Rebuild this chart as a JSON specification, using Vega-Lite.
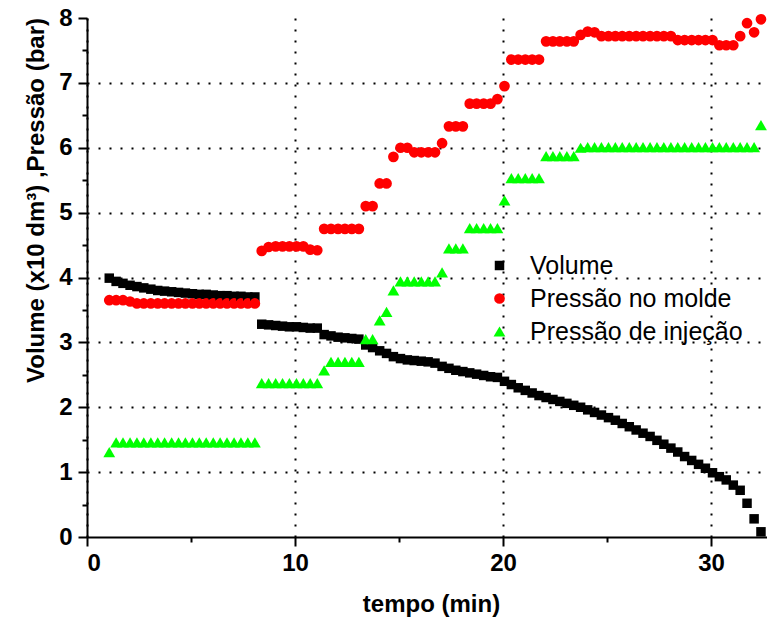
{
  "$schema": "https://vega.github.io/schema/vega-lite/v6.json",
  "width": 680,
  "height": 519,
  "autosize": "none",
  "padding": {"left": 87, "top": 18, "right": 0, "bottom": 88},
  "background": "white",
  "config": {
    "view": {"stroke": null},
    "font": "Liberation Sans",
    "axis": {
      "domainColor": "black", "domainWidth": 2, "tickColor": "black", "tickWidth": 2,
      "labelColor": "black", "labelFont": "Liberation Sans", "labelFontWeight": "bold", "labelFontSize": 24,
      "titleColor": "black", "titleFont": "Liberation Sans", "titleFontWeight": "bold", "titleFontSize": 24,
      "gridColor": "black", "gridDash": [2, 9], "gridWidth": 2, "gridOpacity": 1
    }
  },
  "data": {
    "values": [
      {"t": 1.07, "v": 3.99, "pm": 3.65, "pi": 1.31},
      {"t": 1.40, "v": 3.94, "pm": 3.65, "pi": 1.46},
      {"t": 1.73, "v": 3.91, "pm": 3.65, "pi": 1.46},
      {"t": 2.07, "v": 3.88, "pm": 3.63, "pi": 1.46},
      {"t": 2.40, "v": 3.86, "pm": 3.60, "pi": 1.46},
      {"t": 2.73, "v": 3.84, "pm": 3.60, "pi": 1.46},
      {"t": 3.07, "v": 3.82, "pm": 3.60, "pi": 1.46},
      {"t": 3.40, "v": 3.80, "pm": 3.60, "pi": 1.46},
      {"t": 3.73, "v": 3.79, "pm": 3.60, "pi": 1.46},
      {"t": 4.07, "v": 3.78, "pm": 3.60, "pi": 1.46},
      {"t": 4.40, "v": 3.77, "pm": 3.60, "pi": 1.46},
      {"t": 4.73, "v": 3.76, "pm": 3.60, "pi": 1.46},
      {"t": 5.07, "v": 3.75, "pm": 3.60, "pi": 1.46},
      {"t": 5.40, "v": 3.74, "pm": 3.60, "pi": 1.46},
      {"t": 5.73, "v": 3.74, "pm": 3.60, "pi": 1.46},
      {"t": 6.07, "v": 3.73, "pm": 3.60, "pi": 1.46},
      {"t": 6.40, "v": 3.72, "pm": 3.60, "pi": 1.46},
      {"t": 6.73, "v": 3.72, "pm": 3.60, "pi": 1.46},
      {"t": 7.07, "v": 3.71, "pm": 3.60, "pi": 1.46},
      {"t": 7.40, "v": 3.71, "pm": 3.60, "pi": 1.46},
      {"t": 7.73, "v": 3.70, "pm": 3.60, "pi": 1.46},
      {"t": 8.07, "v": 3.70, "pm": 3.60, "pi": 1.46},
      {"t": 8.40, "v": 3.28, "pm": 4.41, "pi": 2.37},
      {"t": 8.73, "v": 3.27, "pm": 4.47, "pi": 2.37},
      {"t": 9.07, "v": 3.26, "pm": 4.48, "pi": 2.37},
      {"t": 9.40, "v": 3.25, "pm": 4.48, "pi": 2.37},
      {"t": 9.73, "v": 3.24, "pm": 4.48, "pi": 2.37},
      {"t": 10.07, "v": 3.24, "pm": 4.48, "pi": 2.37},
      {"t": 10.40, "v": 3.23, "pm": 4.48, "pi": 2.37},
      {"t": 10.73, "v": 3.22, "pm": 4.43, "pi": 2.37},
      {"t": 11.07, "v": 3.22, "pm": 4.42, "pi": 2.37},
      {"t": 11.40, "v": 3.12, "pm": 4.75, "pi": 2.57},
      {"t": 11.73, "v": 3.10, "pm": 4.75, "pi": 2.70},
      {"t": 12.07, "v": 3.08, "pm": 4.75, "pi": 2.70},
      {"t": 12.40, "v": 3.07, "pm": 4.75, "pi": 2.70},
      {"t": 12.73, "v": 3.06, "pm": 4.75, "pi": 2.70},
      {"t": 13.07, "v": 3.05, "pm": 4.75, "pi": 2.70},
      {"t": 13.40, "v": 2.96, "pm": 5.10, "pi": 3.05},
      {"t": 13.73, "v": 2.92, "pm": 5.10, "pi": 3.05},
      {"t": 14.07, "v": 2.87, "pm": 5.45, "pi": 3.34},
      {"t": 14.40, "v": 2.83, "pm": 5.45, "pi": 3.47},
      {"t": 14.73, "v": 2.78, "pm": 5.86, "pi": 3.80},
      {"t": 15.07, "v": 2.75, "pm": 6.00, "pi": 3.94},
      {"t": 15.40, "v": 2.73, "pm": 6.00, "pi": 3.94},
      {"t": 15.73, "v": 2.72, "pm": 5.93, "pi": 3.94},
      {"t": 16.07, "v": 2.71, "pm": 5.93, "pi": 3.94},
      {"t": 16.40, "v": 2.70, "pm": 5.93, "pi": 3.94},
      {"t": 16.73, "v": 2.68, "pm": 5.93, "pi": 3.94},
      {"t": 17.07, "v": 2.63, "pm": 6.07, "pi": 4.08},
      {"t": 17.40, "v": 2.60, "pm": 6.33, "pi": 4.45},
      {"t": 17.73, "v": 2.57, "pm": 6.33, "pi": 4.45},
      {"t": 18.07, "v": 2.55, "pm": 6.33, "pi": 4.45},
      {"t": 18.40, "v": 2.53, "pm": 6.68, "pi": 4.76},
      {"t": 18.73, "v": 2.51, "pm": 6.68, "pi": 4.76},
      {"t": 19.07, "v": 2.49, "pm": 6.68, "pi": 4.76},
      {"t": 19.40, "v": 2.47, "pm": 6.68, "pi": 4.76},
      {"t": 19.73, "v": 2.46, "pm": 6.75, "pi": 4.76},
      {"t": 20.07, "v": 2.40, "pm": 6.95, "pi": 5.19},
      {"t": 20.40, "v": 2.35, "pm": 7.36, "pi": 5.53},
      {"t": 20.73, "v": 2.30, "pm": 7.36, "pi": 5.53},
      {"t": 21.07, "v": 2.26, "pm": 7.36, "pi": 5.53},
      {"t": 21.40, "v": 2.22, "pm": 7.36, "pi": 5.53},
      {"t": 21.73, "v": 2.18, "pm": 7.36, "pi": 5.53},
      {"t": 22.07, "v": 2.15, "pm": 7.64, "pi": 5.87},
      {"t": 22.40, "v": 2.12, "pm": 7.64, "pi": 5.87},
      {"t": 22.73, "v": 2.09, "pm": 7.64, "pi": 5.87},
      {"t": 23.07, "v": 2.06, "pm": 7.64, "pi": 5.87},
      {"t": 23.40, "v": 2.03, "pm": 7.64, "pi": 5.87},
      {"t": 23.73, "v": 2.00, "pm": 7.74, "pi": 6.00},
      {"t": 24.07, "v": 1.96, "pm": 7.79, "pi": 6.01},
      {"t": 24.40, "v": 1.92, "pm": 7.78, "pi": 6.01},
      {"t": 24.73, "v": 1.88, "pm": 7.72, "pi": 6.01},
      {"t": 25.07, "v": 1.84, "pm": 7.72, "pi": 6.01},
      {"t": 25.40, "v": 1.80, "pm": 7.72, "pi": 6.01},
      {"t": 25.73, "v": 1.75, "pm": 7.72, "pi": 6.01},
      {"t": 26.07, "v": 1.70, "pm": 7.72, "pi": 6.01},
      {"t": 26.40, "v": 1.65, "pm": 7.72, "pi": 6.01},
      {"t": 26.73, "v": 1.60, "pm": 7.72, "pi": 6.01},
      {"t": 27.07, "v": 1.55, "pm": 7.72, "pi": 6.01},
      {"t": 27.40, "v": 1.49, "pm": 7.72, "pi": 6.01},
      {"t": 27.73, "v": 1.43, "pm": 7.72, "pi": 6.01},
      {"t": 28.07, "v": 1.37, "pm": 7.72, "pi": 6.01},
      {"t": 28.40, "v": 1.31, "pm": 7.66, "pi": 6.01},
      {"t": 28.73, "v": 1.24, "pm": 7.66, "pi": 6.01},
      {"t": 29.07, "v": 1.18, "pm": 7.66, "pi": 6.01},
      {"t": 29.40, "v": 1.12, "pm": 7.66, "pi": 6.01},
      {"t": 29.73, "v": 1.06, "pm": 7.66, "pi": 6.01},
      {"t": 30.07, "v": 0.99, "pm": 7.66, "pi": 6.01},
      {"t": 30.40, "v": 0.93, "pm": 7.58, "pi": 6.01},
      {"t": 30.73, "v": 0.88, "pm": 7.58, "pi": 6.01},
      {"t": 31.07, "v": 0.80, "pm": 7.58, "pi": 6.01},
      {"t": 31.40, "v": 0.72, "pm": 7.72, "pi": 6.01},
      {"t": 31.73, "v": 0.52, "pm": 7.92, "pi": 6.01},
      {"t": 32.07, "v": 0.28, "pm": 7.78, "pi": 6.01},
      {"t": 32.40, "v": 0.08, "pm": 7.98, "pi": 6.35}
    ]
  },
  "transform": [{"fold": ["v", "pm", "pi"], "as": ["serie", "valor"]}],
  "layer": [
    {
      "mark": {"type": "point", "opacity": 0},
      "encoding": {
        "x": {"field": "t", "type": "quantitative", "scale": {"domain": [0, 32.69], "nice": false, "zero": false}, "axis": null},
        "y": {"field": "valor", "type": "quantitative", "scale": {"domain": [0, 8], "nice": false},
          "axis": {"orient": "left", "values": [1, 2, 3, 4, 5, 6, 7], "grid": true, "labels": false, "ticks": false, "domain": false, "title": null}}
      }
    },
    {
      "mark": {"type": "point", "opacity": 0},
      "encoding": {
        "x": {"field": "t", "type": "quantitative", "scale": {"domain": [0, 32.69], "nice": false, "zero": false},
          "axis": {"orient": "bottom", "values": [5, 15, 25], "grid": false, "labels": false, "domain": false, "tickSize": 5, "title": null}},
        "y": {"field": "valor", "type": "quantitative", "scale": {"domain": [0, 8], "nice": false},
          "axis": {"orient": "left", "values": [0.5, 1.5, 2.5, 3.5, 4.5, 5.5, 6.5, 7.5], "grid": false, "labels": false, "domain": false, "tickSize": 5, "title": null}}
      }
    },
    {
      "mark": {"type": "point", "filled": true, "opacity": 1, "strokeWidth": 0},
      "encoding": {
        "x": {"field": "t", "type": "quantitative", "scale": {"domain": [0, 32.69], "nice": false, "zero": false},
          "axis": {"orient": "bottom", "values": [0, 10, 20, 30], "grid": true, "tickSize": 9, "labelPadding": 5,
            "title": "tempo (min)", "titleX": 344, "titleY": 74, "titleBaseline": "alphabetic", "titleAnchor": null}},
        "y": {"field": "valor", "type": "quantitative", "scale": {"domain": [0, 8], "nice": false},
          "axis": {"orient": "left", "values": [0, 1, 2, 3, 4, 5, 6, 7, 8], "grid": false, "tickSize": 9, "labelPadding": 6,
            "title": "Volume (x10 dm³) ,Pressão (bar)", "titleAngle": 270, "titleX": -44, "titleY": 182, "titleAlign": "center", "titleBaseline": "alphabetic"}},
        "color": {"field": "serie", "type": "nominal",
          "scale": {"domain": ["v", "pm", "pi"], "range": ["#000000", "#ff0000", "#00ff00"]},
          "legend": {"orient": "none", "legendX": 400, "legendY": 235, "title": null, "padding": 0,
            "labelFont": "Liberation Sans", "labelFontSize": 25, "labelColor": "black", "labelOffset": 18, "labelLimit": 0,
            "symbolSize": 130, "symbolStrokeWidth": 0, "rowPadding": 7,
            "labelExpr": "datum.label == 'v' ? 'Volume' : datum.label == 'pm' ? 'Pressão no molde' : 'Pressão de injeção'"}},
        "shape": {"field": "serie", "type": "nominal",
          "scale": {"domain": ["v", "pm", "pi"], "range": ["square", "circle", "triangle-up"]}},
        "size": {"field": "serie", "type": "nominal", "legend": null,
          "scale": {"domain": ["v", "pm", "pi"], "range": [90, 140, 190]}}
      }
    }
  ],
  "resolve": {"axis": {"x": "independent", "y": "independent"}}
}
